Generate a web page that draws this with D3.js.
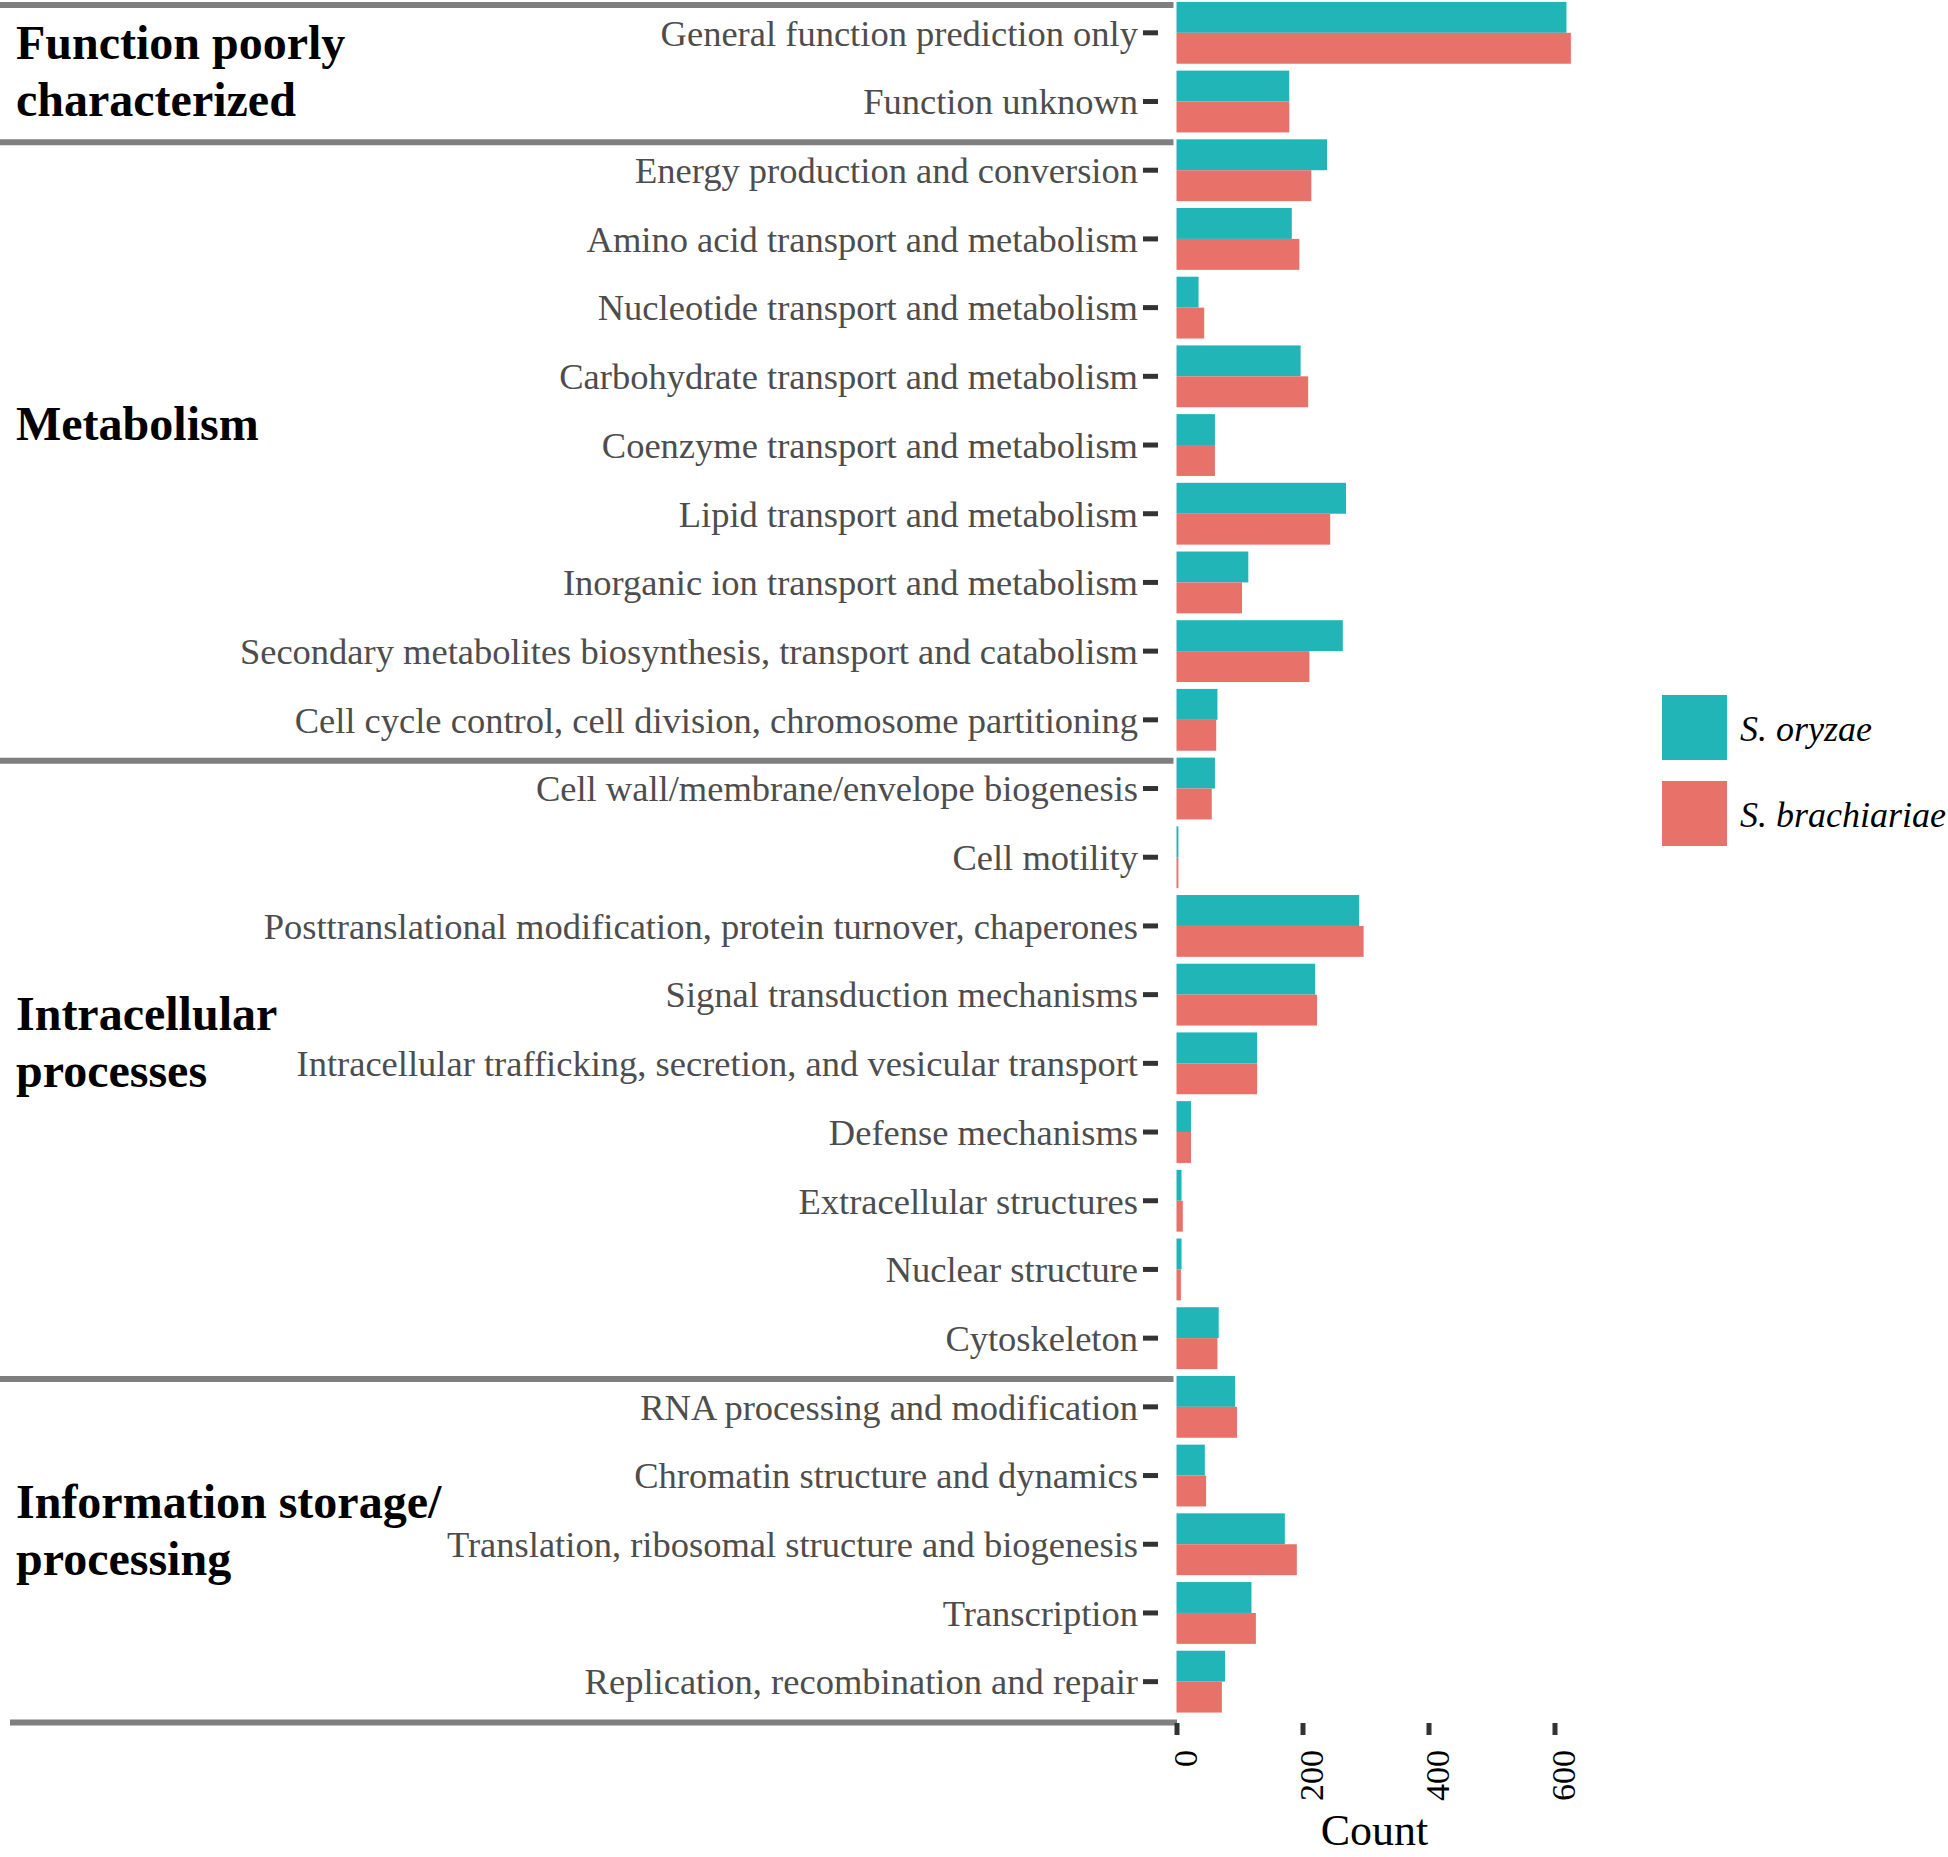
<!DOCTYPE html>
<html>
<head>
<meta charset="utf-8">
<script src="https://cdn.jsdelivr.net/npm/d3@7"></script>
<style>
  html, body { margin: 0; padding: 0; background: #ffffff; }
  svg { display: block; }
  text { font-family: "Liberation Serif", "Times New Roman", serif; }
</style>
</head>
<body>
<script>
// ---------------- DATA ----------------
const categories = [
  "General function prediction only",
  "Function unknown",
  "Energy production and conversion",
  "Amino acid transport and metabolism",
  "Nucleotide transport and metabolism",
  "Carbohydrate transport and metabolism",
  "Coenzyme transport and metabolism",
  "Lipid transport and metabolism",
  "Inorganic ion transport and metabolism",
  "Secondary metabolites biosynthesis, transport and catabolism",
  "Cell cycle control, cell division, chromosome partitioning",
  "Cell wall/membrane/envelope biogenesis",
  "Cell motility",
  "Posttranslational modification, protein turnover, chaperones",
  "Signal transduction mechanisms",
  "Intracellular trafficking, secretion, and vesicular transport",
  "Defense mechanisms",
  "Extracellular structures",
  "Nuclear structure",
  "Cytoskeleton",
  "RNA processing and modification",
  "Chromatin structure and dynamics",
  "Translation, ribosomal structure and biogenesis",
  "Transcription",
  "Replication, recombination and repair"
];
const seriesNames = ["S. oryzae", "S. brachiariae"];
const oryzae     = [619, 179, 239, 183, 35, 197, 61, 269, 114, 264, 65, 61, 3, 290, 220, 128, 23, 8, 8, 67, 93, 45, 172, 119, 77];
const brachiariae = [626, 179, 214, 195, 44, 209, 61, 244, 104, 211, 63, 56, 3, 297, 223, 128, 23, 10, 7, 65, 96, 47, 191, 126, 72];
const seriesColors = ["#22B5B8", "#E8716A"];
const xTicks = [0, 200, 400, 600];
const groupLabels = [["Function poorly", "characterized"], ["Metabolism"], ["Intracellular", "processes"], ["Information storage/", "processing"]];
const groupStarts = [0, 2, 11, 20];
const xTitle = "Count";

// ---------------- LAYOUT ----------------
const W = 1948, H = 1857;
const svg = d3.select("body").append("svg").attr("width", W).attr("height", H);

const y = d3.scaleBand().domain(categories).range([-1.535, 1716.0]).paddingInner(0.1).paddingOuter(0.05);
const ySub = d3.scaleBand().domain(seriesNames).range([0, y.bandwidth()]);
const x = d3.scaleLinear().domain([0, 600]).range([1176.5, 1554.5]);

const rows = categories.map((c, i) => ({ cat: c, vals: [oryzae[i], brachiariae[i]] }));

// bars
const g = svg.append("g");
rows.forEach(r => {
  r.vals.forEach((v, k) => {
    g.append("rect")
      .attr("x", x(0))
      .attr("y", y(r.cat) + ySub(seriesNames[k]))
      .attr("width", x(v) - x(0))
      .attr("height", ySub.bandwidth())
      .attr("fill", seriesColors[k]);
  });
});

// separator lines
const step = y.step();
const boundary = i => (i < categories.length ? y(categories[i]) : y(categories[categories.length - 1]) + step) - 0.05 * step + 6.5;
groupStarts.forEach(i => {
  svg.append("line").attr("x1", 0).attr("x2", 1173.5)
    .attr("y1", boundary(i)).attr("y2", boundary(i))
    .attr("stroke", "#7f7f7f").attr("stroke-width", 6);
});
svg.append("line").attr("x1", 10).attr("x2", 1177)
  .attr("y1", boundary(categories.length)).attr("y2", boundary(categories.length))
  .attr("stroke", "#7f7f7f").attr("stroke-width", 6);

// y axis (category labels + ticks)
const yAxisG = svg.append("g").attr("transform", "translate(1158,0)")
  .call(d3.axisLeft(y).tickSize(15).tickPadding(5));
yAxisG.select(".domain").remove();
yAxisG.selectAll(".tick line").attr("stroke", "#333333").attr("stroke-width", 5);
yAxisG.selectAll(".tick text")
  .attr("font-family", "'Liberation Serif', 'Times New Roman', serif")
  .attr("font-size", 36.5).attr("fill", "#4d4d4d").attr("dy", "0.35em");

// x axis
const xAxisG = svg.append("g").attr("transform", "translate(0,1723)")
  .call(d3.axisBottom(x).tickValues(xTicks).tickSize(12).tickFormat(d3.format("d")));
xAxisG.select(".domain").remove();
xAxisG.selectAll(".tick line").attr("stroke", "#333333").attr("stroke-width", 5);
xAxisG.selectAll(".tick text")
  .attr("font-family", "'Liberation Serif', 'Times New Roman', serif")
  .attr("font-size", 34).attr("fill", "#000")
  .attr("text-anchor", "end")
  .attr("transform", "translate(8,27) rotate(-90)")
  .attr("x", 0).attr("y", 0).attr("dy", "0.35em");

// x title
svg.append("text").attr("x", 1374.5).attr("y", 1845).attr("text-anchor", "middle")
  .attr("font-size", 44).attr("fill", "#000").text(xTitle);

// group labels
const groupBaselines = [[59, 116], [440], [1030, 1087], [1518, 1575]];
groupLabels.forEach((lines, gi) => {
  lines.forEach((t, li) => {
    svg.append("text").attr("x", 16).attr("y", groupBaselines[gi][li])
      .attr("font-size", 48).attr("font-weight", "bold").attr("fill", "#000").text(t);
  });
});

// legend
const legY = [695, 781];
seriesNames.forEach((s, k) => {
  svg.append("rect").attr("x", 1662).attr("y", legY[k]).attr("width", 65).attr("height", 65)
    .attr("fill", seriesColors[k]);
  svg.append("text").attr("x", 1740).attr("y", legY[k] + 46)
    .attr("font-size", 36).attr("font-style", "italic").attr("fill", "#000").text(s);
});
</script>
</body>
</html>
